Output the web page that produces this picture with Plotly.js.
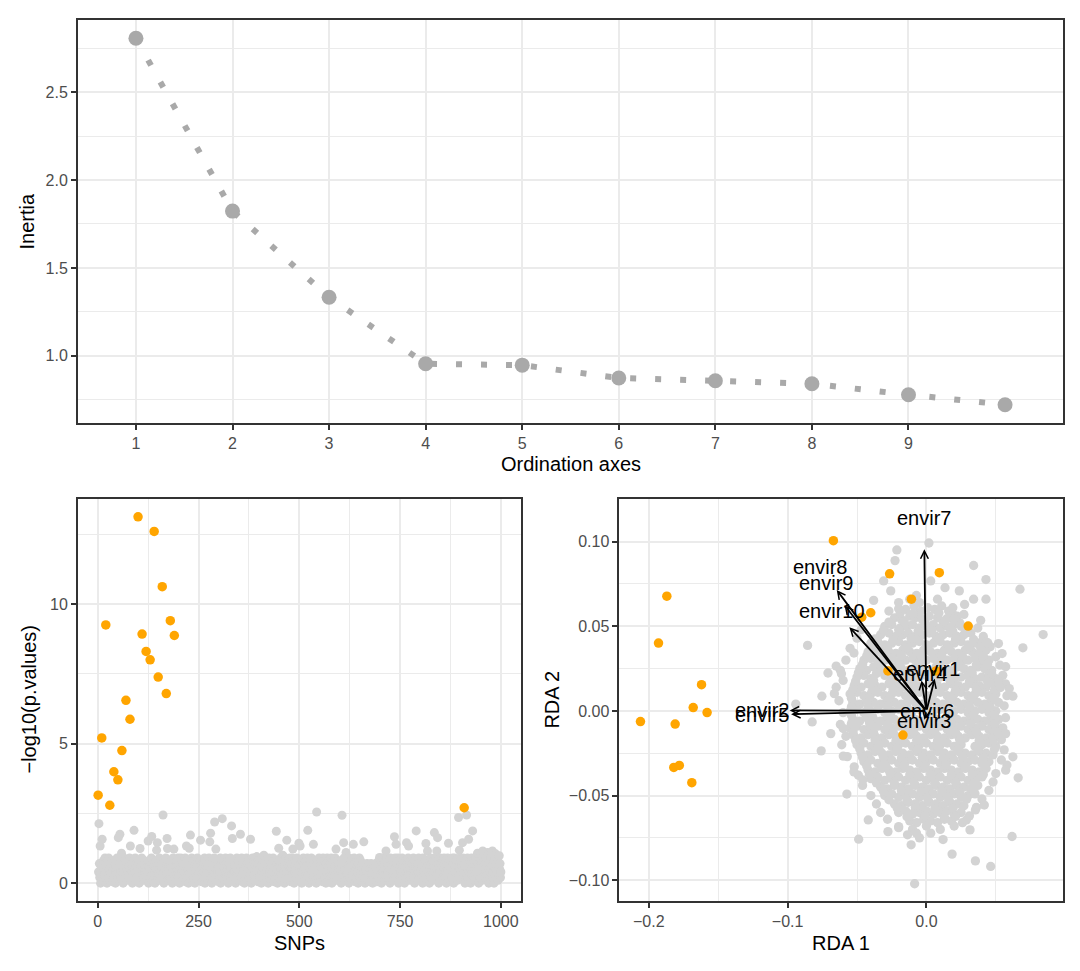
<!DOCTYPE html>
<html><head><meta charset="utf-8">
<script src="https://cdn.plot.ly/plotly-3.0.1.min.js"></script>
<style>html,body{margin:0;padding:0;background:#fff}#chart{width:1080px;height:971px}</style>
</head><body><div id="chart"></div>
<script>
// ---------- Scree plot (top) ----------
const ordinationAxes = [1,2,3,4,5,6,7,8,9,10];
const inertia = [2.806,1.823,1.333,0.955,0.947,0.874,0.858,0.841,0.779,0.722];
const screeTicks = [1,2,3,4,5,6,7,8,9];
const screeYTicks = [1.0,1.5,2.0,2.5];
const screeYTickText = ['1.0','1.5','2.0','2.5'];

// ---------- Manhattan plot (bottom left): -log10(p) per SNP 1..1000 ----------
const negLog10P = [
3.15,.4,2.13,.7,.2,1.33,0,.5,.3,5.2,1.57,.6,.2,.8,.4,.1,.3,.9,.5,9.25,
.3,.6,0,.8,.4,.2,.9,.5,.1,2.79,.7,.3,.2,.6,.4,.8,.05,.5,.3,3.99,
.2,.5,.8,0,.4,.6,.3,.9,.2,3.7,1.63,.4,.1,.7,1.75,.3,.5,.2,1.07,4.75,
.4,.7,0,.3,.9,.5,.2,.6,.8,6.55,.3,.1,.5,.4,.7,.2,.6,.3,.9,5.87,
1.33,.5,.2,.7,.4,0,.6,.3,.8,1.89,.2,.5,.9,.4,.1,.7,.3,.6,.2,13.12,
.3,.8,0,.5,1.24,.6,.2,.4,.9,8.92,.3,.7,.1,.5,.2,.8,.4,.6,.3,8.3,
.5,.2,.7,.3,1.51,0,.6,.4,.8,8.0,.2,.5,.9,1.67,.3,.7,.1,.4,.6,12.6,
.4,0,.6,.8,.3,1.18,.5,1.45,.2,7.38,.7,.3,.9,.1,.5,.4,.8,.2,.6,10.62,
.3,2.44,.6,0,.8,.4,.2,.5,.9,6.79,.3,1.6,1.24,.7,.1,.4,.6,.2,.8,9.4,
.2,.6,.4,.8,0,.5,.9,.3,1.22,8.87,.7,.2,.4,.6,.1,.8,.3,.5,.9,.2,
.6,.3,0,.7,.5,.9,.2,.4,.8,.1,.3,.6,.5,.2,.7,.4,.9,.05,.5,1.33,
.4,.8,.2,.5,0,.6,1.25,.3,.7,1.72,.2,.5,.9,.4,.1,.6,.3,.8,.2,.5,
0,.5,.8,.3,.6,.2,.9,.4,.1,.7,.3,.5,.2,.8,1.54,.4,.6,.05,.7,.3,
.5,.2,.7,.4,.9,0,.3,.6,.8,.2,.5,.4,.1,.7,.3,.9,.6,1.48,.2,1.79,
.3,.7,0,.5,.8,.2,.4,.6,.9,2.19,.3,.1,1.22,.5,.7,.2,.8,.4,.6,.05,
.6,.2,.4,.9,0,.5,.3,.7,2.31,.2,.8,.4,.6,.1,.5,.3,.9,.2,.7,.4,
.2,.5,.8,0,.6,.3,.7,.4,.9,.2,.5,2.05,.3,1.6,.1,.7,.4,.8,.2,.6,
.4,0,.7,.3,.9,.5,.2,.6,.8,.1,.4,.7,.3,1.75,.5,.2,.9,.6,.05,.4,
.7,.3,.5,0,.8,.4,.2,.6,.9,.3,.5,.1,.7,.4,.8,.2,.6,.3,1.57,.5,
0,.6,.4,.9,.2,.5,.8,.3,.7,.1,.4,.6,.2,.95,.5,.3,.8,.05,.7,.4,
.5,.2,.8,.3,.6,0,.9,.4,.7,.2,.5,1.0,.3,.6,.1,.8,.4,.2,.7,.5,
.3,.7,0,.5,.9,.2,.4,.8,.6,.1,.3,.7,.5,.2,.9,.4,.6,.05,.8,.3,
.6,.2,1.86,.4,.7,0,.5,.3,1.25,.8,.2,.6,.4,.9,.1,.5,.3,.7,1.0,.2,
.4,.8,0,.6,.3,.9,.2,.5,1.54,.7,.1,.4,.8,.3,.6,.2,.9,.5,.05,.7,
.2,.5,.9,1.22,.3,.7,0,.6,.4,.8,.2,.5,.3,.9,.1,.6,.4,.7,1.43,.3,
.5,1.33,.2,.7,.4,0,.8,.3,.6,.9,.2,.5,.1,.7,.4,.8,.3,.6,.2,.9,
1.89,.3,.6,0,.8,.4,.2,.7,.5,.9,.1,.3,.6,.4,1.39,.2,.8,.5,.05,.7,
.4,0,2.55,.6,.3,.8,.2,.5,.9,.1,.7,.4,.6,.2,.8,.3,.5,.05,.9,.4,
.6,.3,.8,.2,.5,0,.7,.4,.9,.3,.6,.2,.8,.5,.1,.4,.7,.3,.9,.2,
0,.5,.3,.8,.4,.7,.2,.6,.9,.3,1.22,.5,.1,.7,.4,.8,.2,.6,.3,.5,
.7,.2,.5,0,.8,2.43,.4,.6,.3,1.45,.9,.2,.5,.1,.7,1.1,.4,.8,.3,.6,
.3,.6,0,.9,.4,.2,.7,.5,.8,.1,.4,.6,.3,1.39,.2,.9,.5,.7,.05,.4,
.5,.2,.8,.4,.6,0,.7,.3,.9,.2,.5,.8,.1,.6,.4,.3,.7,.2,.5,1.48,
.2,.4,0,.6,.3,.5,.2,.7,.1,.4,.3,.6,.2,.5,.05,.4,.3,.7,.2,.5,
.3,0,.5,.2,.6,.4,.1,.3,.7,.2,.5,.05,.4,.6,.3,.2,.8,.4,.92,.5,
.6,.3,.8,0,.5,.9,.2,.4,.7,.3,.6,.1,.8,.4,1.15,.2,.5,.9,.3,.7,
.4,.8,.2,.6,0,.9,.5,.3,.7,.2,.4,.8,.1,.6,.3,1.66,.5,.9,.2,1.39,
.5,.2,.7,.4,.9,0,.6,.3,.8,.5,.2,.4,.7,.1,.9,.6,.3,.8,.2,.5,
0,.6,.3,.8,.4,1.45,.2,.7,.5,.9,1.33,.3,.6,.1,.8,.4,.2,.7,.5,.3,
.7,.3,.9,.2,.5,0,.8,.4,.6,1.87,.3,.5,.2,.7,.1,.9,.4,.6,.3,.8,
.2,.5,.8,.3,.6,0,.9,.4,.7,.2,.5,.3,.8,1.42,.1,.6,.4,1.15,.2,.7,
.4,.8,0,.6,.3,.9,.2,.5,.7,.4,.1,.8,.3,.6,1.81,.2,.5,.9,.4,.7,
1.15,.3,1.63,.5,.8,0,.6,.4,.9,.2,.7,.3,.5,.1,.8,.4,.6,.2,.9,.3,
.6,.2,.8,.4,0,.7,.3,.9,.5,1.43,.2,.6,.4,.8,.1,.5,.3,.7,.2,.9,
.3,.7,0,.5,.9,.4,.6,.2,.8,.3,.5,.1,.7,.4,2.35,.6,1.18,.9,.2,.5,
.8,.4,.6,.2,1.45,.9,.3,.7,2.7,.5,0,.8,.4,.6,2.44,.3,.9,.2,.5,1.57,
.2,.6,.4,.8,0,.5,.9,.3,.7,1.87,.4,.2,.6,.8,.1,.5,.3,.9,.4,.7,
.5,1.07,.3,.7,0,.6,.4,.9,.2,.8,.5,.3,.7,.1,1.15,.4,.6,.2,1.05,.3,
.7,.2,.5,.9,.3,.6,1.1,.4,.8,0,1.05,.5,.2,.7,.4,.9,.3,.6,1.15,.2,
.4,.8,0,.6,.3,.9,1.05,.5,.7,.2,.4,.8,.1,.6,.3,.98,.5,.7,.2,.4
];
const outlierSNPs = [1,10,20,30,40,50,60,70,80,100,110,120,130,140,150,160,170,180,190,909];
const snpTicks = [0,250,500,750,1000];
const pTicks = [0,5,10];

// ---------- RDA biplot (bottom right) ----------
const rdaOutlier1 = [-.067,-.187,-.193,-.162,-.168,-.158,-.206,-.181,-.182,-.178,-.169,-.0265,.0093,-.0108,-.0401,-.0466,.0301,-.0277,.0069,-.0169];
const rdaOutlier2 = [.1006,.0678,.0401,.0155,.002,-.001,-.0063,-.0078,-.0334,-.0322,-.0424,.081,.0817,.066,.058,.0554,.0501,.0236,.0236,-.0143];
const rdaGreyCore = [
[-.015,.060],[-.009,.062],[-.004,.059],[.001,.061],[.006,.060],[.011,.062],[.016,.059],
[-.023,.055],[-.018,.054],[-.012,.056],[-.008,.055],[-.003,.054],[.002,.056],[.008,.055],[.012,.053],[.017,.055],[.022,.056],
[-.030,.050],[-.025,.051],[-.019,.049],[-.014,.050],[-.010,.051],[-.005,.049],[.000,.050],[.005,.051],[.010,.049],[.015,.050],[.020,.051],[.025,.050],[.030,.049],
[-.033,.045],[-.027,.046],[-.022,.044],[-.017,.045],[-.013,.046],[-.008,.044],[-.003,.045],[.002,.046],[.007,.044],[.012,.045],[.017,.046],[.022,.044],[.027,.045],[.032,.046],
[-.040,.040],[-.035,.041],[-.030,.039],[-.025,.040],[-.020,.041],[-.015,.039],[-.010,.040],[-.005,.041],[.000,.039],[.005,.040],[.010,.041],[.015,.039],[.020,.040],[.025,.041],[.030,.039],[.035,.040],[.040,.041],
[-.042,.035],[-.037,.034],[-.032,.036],[-.027,.035],[-.022,.034],[-.017,.036],[-.012,.035],[-.007,.034],[-.002,.036],[.003,.035],[.008,.034],[.013,.036],[.018,.035],[.023,.034],[.028,.036],[.033,.035],[.038,.034],[.043,.036],
[-.045,.030],[-.040,.031],[-.035,.029],[-.030,.030],[-.025,.031],[-.020,.029],[-.015,.030],[-.010,.031],[-.005,.029],[.000,.030],[.005,.031],[.010,.029],[.015,.030],[.020,.031],[.025,.029],[.030,.030],[.035,.031],[.040,.029],[.045,.030],
[-.048,.025],[-.043,.024],[-.038,.026],[-.033,.025],[-.028,.024],[-.023,.026],[-.018,.025],[-.013,.024],[-.008,.026],[-.003,.025],[.002,.024],[.007,.026],[.012,.025],[.017,.024],[.022,.026],[.027,.025],[.032,.024],[.037,.026],[.042,.025],[.047,.024],
[-.050,.020],[-.045,.021],[-.040,.019],[-.030,.021],[-.025,.019],[-.020,.020],[-.015,.021],[-.010,.019],[-.005,.020],[.000,.021],[.005,.019],[.010,.020],[.015,.021],[.020,.019],[.025,.020],[.030,.021],[.035,.019],[.040,.020],[.045,.021],[.050,.019],
[-.052,.015],[-.047,.014],[-.042,.016],[-.037,.015],[-.032,.014],[-.027,.016],[-.022,.015],[-.017,.014],[-.012,.016],[-.007,.015],[-.002,.014],[.003,.016],[.008,.015],[.013,.014],[.018,.016],[.023,.015],[.028,.014],[.033,.016],[.038,.015],[.043,.014],[.048,.016],
[-.055,.010],[-.050,.011],[-.045,.009],[-.040,.010],[-.035,.011],[-.030,.009],[-.025,.010],[-.020,.011],[-.015,.009],[-.010,.010],[-.005,.011],[.000,.009],[.005,.010],[.010,.011],[.015,.009],[.020,.010],[.025,.011],[.030,.009],[.035,.010],[.040,.011],[.045,.009],[.050,.010],
[-.053,.005],[-.048,.004],[-.043,.006],[-.038,.005],[-.033,.004],[-.028,.006],[-.023,.005],[-.018,.004],[-.013,.006],[-.008,.005],[-.003,.004],[.002,.006],[.007,.005],[.012,.004],[.017,.006],[.022,.005],[.027,.004],[.032,.006],[.037,.005],[.042,.004],[.047,.006],[.052,.005],
[-.055,.000],[-.050,.001],[-.045,-.001],[-.040,.000],[-.035,.001],[-.030,-.001],[-.025,.000],[-.020,.001],[-.015,-.001],[-.010,.000],[-.005,.001],[.000,-.001],[.005,.000],[.010,.001],[.015,-.001],[.020,.000],[.025,.001],[.030,-.001],[.035,.000],[.040,.001],[.045,-.001],[.050,.000],
[-.053,-.005],[-.048,-.006],[-.043,-.004],[-.038,-.005],[-.033,-.006],[-.028,-.004],[-.023,-.005],[-.018,-.006],[-.013,-.004],[-.008,-.005],[-.003,-.006],[.002,-.004],[.007,-.005],[.012,-.006],[.017,-.004],[.022,-.005],[.027,-.006],[.032,-.004],[.037,-.005],[.042,-.006],[.047,-.004],[.052,-.005],
[-.055,-.010],[-.050,-.009],[-.045,-.011],[-.040,-.010],[-.035,-.009],[-.030,-.011],[-.025,-.010],[-.020,-.009],[-.015,-.011],[-.010,-.010],[-.005,-.009],[.000,-.011],[.005,-.010],[.010,-.009],[.015,-.011],[.020,-.010],[.025,-.009],[.030,-.011],[.035,-.010],[.040,-.009],[.045,-.011],[.050,-.010],
[-.052,-.015],[-.047,-.016],[-.042,-.014],[-.037,-.015],[-.032,-.016],[-.027,-.014],[-.022,-.015],[-.017,-.016],[-.012,-.014],[-.007,-.015],[-.002,-.016],[.003,-.014],[.008,-.015],[.013,-.016],[.018,-.014],[.023,-.015],[.028,-.016],[.033,-.014],[.038,-.015],[.043,-.016],[.048,-.014],
[-.050,-.020],[-.045,-.019],[-.040,-.021],[-.035,-.020],[-.030,-.019],[-.025,-.021],[-.020,-.020],[-.015,-.019],[-.010,-.021],[-.005,-.020],[.000,-.019],[.005,-.021],[.010,-.020],[.015,-.019],[.020,-.021],[.025,-.020],[.035,-.021],[.040,-.020],[.045,-.019],[.050,-.021],
[-.047,-.025],[-.042,-.026],[-.037,-.024],[-.032,-.025],[-.027,-.026],[-.022,-.024],[-.017,-.025],[-.012,-.026],[-.007,-.024],[-.002,-.025],[.003,-.026],[.008,-.024],[.013,-.025],[.018,-.026],[.023,-.024],[.028,-.025],[.033,-.026],[.038,-.024],[.043,-.025],[.048,-.026],
[-.045,-.030],[-.040,-.029],[-.035,-.031],[-.030,-.030],[-.025,-.029],[-.020,-.031],[-.015,-.030],[-.010,-.029],[-.005,-.031],[.000,-.030],[.005,-.029],[.010,-.031],[.015,-.030],[.020,-.029],[.025,-.031],[.030,-.030],[.035,-.029],[.040,-.031],[.045,-.030],
[-.042,-.035],[-.037,-.036],[-.032,-.034],[-.027,-.035],[-.022,-.036],[-.017,-.034],[-.012,-.035],[-.007,-.036],[-.002,-.034],[.003,-.035],[.008,-.036],[.013,-.034],[.018,-.035],[.023,-.036],[.028,-.034],[.033,-.035],[.038,-.036],[.043,-.034],
[-.040,-.040],[-.035,-.039],[-.030,-.041],[-.025,-.040],[-.020,-.039],[-.015,-.041],[-.010,-.040],[-.005,-.039],[.000,-.041],[.005,-.040],[.010,-.039],[.015,-.041],[.020,-.040],[.025,-.039],[.030,-.041],[.035,-.040],[.040,-.039],
[-.033,-.045],[-.028,-.046],[-.023,-.044],[-.018,-.045],[-.013,-.046],[-.008,-.044],[-.003,-.045],[.002,-.046],[.007,-.044],[.012,-.045],[.017,-.046],[.022,-.044],[.027,-.045],[.032,-.046],[.037,-.044],
[-.030,-.050],[-.025,-.049],[-.020,-.051],[-.015,-.050],[-.010,-.049],[-.005,-.051],[.000,-.050],[.005,-.049],[.010,-.051],[.015,-.050],[.020,-.049],[.025,-.051],[.030,-.050],[.035,-.049],
[-.023,-.055],[-.018,-.056],[-.013,-.054],[-.008,-.055],[-.003,-.056],[.002,-.054],[.007,-.055],[.012,-.056],[.017,-.054],[.022,-.055],[.027,-.056],
[-.020,-.060],[-.015,-.059],[-.010,-.061],[-.005,-.060],[.000,-.059],[.005,-.061],[.010,-.060],[.015,-.059],[.020,-.061],[.025,-.060],
[-.012,-.065],[-.007,-.066],[-.002,-.064],[.003,-.065],[.008,-.066],[.013,-.064],[.018,-.065]
];
const rdaGreyFill = [
[-.019,.0575],[-.006,.0571],[.009,.0578],[.019,.0573],
[-.027,.0525],[-.016,.0529],[-.001,.0522],[.013,.0527],[.024,.0521],
[-.031,.0475],[-.020,.0479],[-.006,.0472],[.004,.0476],[.019,.0471],[.029,.0478],
[-.037,.0425],[-.024,.0421],[-.011,.0428],[.009,.0423],[.021,.0427],[.034,.0422],
[-.039,.0375],[-.028,.0379],[-.014,.0372],[.001,.0377],[.016,.0371],[.031,.0378],[.039,.0374],
[-.043,.0325],[-.031,.0321],[-.018,.0328],[-.004,.0323],[.011,.0327],[.026,.0322],[.041,.0326],
[-.046,.0275],[-.034,.0279],[-.019,.0272],[-.006,.0277],[.009,.0271],[.023,.0278],[.036,.0273],[.044,.0276],
[-.049,.0225],[-.036,.0221],[-.021,.0228],[-.008,.0223],[.006,.0227],[.019,.0222],[.033,.0226],[.047,.0221],
[-.051,.0175],[-.038,.0179],[-.026,.0172],[-.011,.0177],[.004,.0171],[.017,.0178],[.031,.0173],[.044,.0176],
[-.053,.0125],[-.039,.0121],[-.024,.0128],[-.009,.0123],[.006,.0127],[.021,.0122],[.036,.0126],[.049,.0121],
[-.054,.0075],[-.041,.0079],[-.027,.0072],[-.012,.0077],[.002,.0071],[.018,.0078],[.033,.0073],[.048,.0076],
[-.054,.0025],[-.042,.0021],[-.028,.0028],[-.014,.0023],[.001,.0027],[.016,.0022],[.031,.0026],[.046,.0021],
[-.054,-.0025],[-.039,-.0029],[-.026,-.0022],[-.011,-.0027],[.004,-.0021],[.019,-.0028],[.034,-.0023],[.049,-.0026],
[-.054,-.0075],[-.041,-.0071],[-.028,-.0078],[-.013,-.0073],[.003,-.0077],[.018,-.0072],[.032,-.0076],[.047,-.0071],
[-.053,-.0125],[-.038,-.0129],[-.024,-.0122],[-.009,-.0127],[.006,-.0121],[.021,-.0128],[.036,-.0123],[.049,-.0126],
[-.051,-.0175],[-.037,-.0171],[-.022,-.0178],[-.007,-.0173],[.008,-.0177],[.024,-.0172],[.038,-.0176],[.048,-.0171],
[-.048,-.0225],[-.034,-.0229],[-.021,-.0222],[-.006,-.0227],[.009,-.0221],[.023,-.0228],[.037,-.0223],[.049,-.0226],
[-.046,-.0275],[-.031,-.0271],[-.018,-.0278],[-.003,-.0273],[.012,-.0277],[.026,-.0272],[.041,-.0276],
[-.043,-.0325],[-.029,-.0329],[-.016,-.0322],[-.001,-.0327],[.014,-.0321],[.028,-.0328],[.042,-.0323],
[-.041,-.0375],[-.026,-.0371],[-.012,-.0378],[.003,-.0373],[.018,-.0377],[.033,-.0372],[.041,-.0376],
[-.036,-.0425],[-.023,-.0429],[-.009,-.0422],[.006,-.0427],[.021,-.0421],[.034,-.0428],
[-.031,-.0475],[-.018,-.0471],[-.004,-.0478],[.011,-.0473],[.024,-.0477],[.034,-.0472],
[-.027,-.0525],[-.014,-.0529],[.001,-.0522],[.016,-.0527],[.029,-.0521],
[-.021,-.0575],[-.008,-.0571],[.006,-.0578],[.019,-.0573],
[-.014,-.0625],[-.001,-.0621],[.013,-.0628],[.021,-.0623]
];
const rdaGreyEdge = [
[-.050,.043],[-.047,.048],[-.055,.037],[-.058,.030],[-.062,.024],[-.060,.018],[-.065,.014],[-.063,.006],[-.060,-.001],[-.062,-.008],[-.058,-.015],[-.061,-.020],[-.057,-.027],[-.052,-.033],[-.049,-.038],[-.046,-.044],[-.040,-.050],[-.036,-.055],[-.033,-.060],[-.028,-.064],
[.037,.049],[.041,.044],[.046,.038],[.050,.032],[.053,.027],[.055,.021],[.057,.016],[.058,.009],[.056,.003],[.057,-.004],[.055,-.010],[.054,-.017],[.056,-.023],[.054,-.029],[.058,-.032],[.050,-.037],[.048,-.042],[.045,-.047],[.040,-.052],[.036,-.057],[.031,-.062],[.026,-.066],
[-.020,.064],[-.012,.066],[-.005,.064],[.008,.066],[.019,.061],[-.027,.059],[.027,.057],
[-.020,-.069],[-.010,-.070],[.000,-.068],[.010,-.070],[.020,-.068],[-.005,-.075],[.012,-.076],
[.0018,.0992],[-.0213,.0951],[-.0226,.0888],[.034,.0859],[-.0308,.0768],[-.0257,.0709],[.0031,.0768],[.0134,.0728],[.0237,.0709],[.0429,.0776],[.0674,.0719],[.034,.066],[.0429,.066],[.0275,.0629],[-.038,.0653],[-.020,.0604],[-.0072,.0682],[-.0097,.0574],[.0147,.0545],[.0198,.0545],[.0391,.0535],[.0429,.0408],[.0519,.0398],[.0442,.0402],[.0841,.0451],[.0695,.0373],[.0545,.0339],[.0571,.0261],
[-.0856,.0387],[-.0522,.0342],[-.0612,.022],[-.065,.0265],[-.0709,.0224],[-.0753,.0087],[-.0663,.0102],[-.0941,.004],[-.0823,-.0065],[-.0599,-.0104],[-.0689,-.0134],[-.0758,-.0236],[-.0599,-.0267],[-.0522,-.036],[-.0573,-.0491],[-.0458,-.0408],
[-.0419,-.0644],[-.0488,-.0758],[-.0277,-.0713],[-.020,-.0683],[-.0136,-.0732],[-.0072,-.0722],[.0031,-.0722],[-.0097,-.0605],[-.0085,-.1021],[-.011,-.0791],[.0185,-.0846],[.0288,-.0644],[.0353,-.0886],[.0463,-.0919],[.0314,-.0703],[.0353,-.0585],[.0417,-.0556],[.0617,-.0742],
[.0661,-.0395],[.0571,-.035],[.0623,-.0271],[.0519,-.0134],[.0571,-.0134],[.0494,-.0075],[.0623,.0087],[.0597,.0132],[.0533,.0138],[.0519,.0181]
];
const envNames  = ['envir1','envir2','envir3','envir4','envir5','envir6','envir7','envir8','envir9','envir10'];
const envRDA1   = [.006,-.0985,-.0014,-.0035,-.0975,.0006,-.0015,-.0646,-.059,-.0555];
const envRDA2   = [.019,.0003,-.0052,.018,-.002,.0001,.0955,.0715,.0625,.0495];
const envLabel1 = [.005,-.1186,-.0017,-.0046,-.1186,.0005,-.002,-.077,-.072,-.068];
const envLabel2 = [.025,.0004,-.0062,.022,-.0025,.0002,.114,.085,.0754,.0593];
const rdaXTicks = [-0.2,-0.1,0.0];
const rdaXTickText = ['\u22120.2','\u22120.1','0.0'];
const rdaYTicks = [-0.10,-0.05,0.00,0.05,0.10];
const rdaYTickText = ['\u22120.10','\u22120.05','0.00','0.05','0.10'];

if (negLog10P.length !== 1000) throw new Error('negLog10P length ' + negLog10P.length);

// ---------- build ----------
const FONT = 'Liberation Sans, Arial, Helvetica, sans-serif';
const GRID = '#EBEBEB', FRAME = '#333333', TICKTXT = '#4D4D4D';
const GREY = '#D3D3D3', ORANGE = '#FFA500', DARKGREY = '#A9A9A9';

const gX = [], gY = [], oX = [], oY = [];
negLog10P.forEach((v, i) => {
  const snp = i + 1;
  if (outlierSNPs.includes(snp)) { oX.push(snp); oY.push(v); }
  else { gX.push(snp); gY.push(v); }
});
const rdaGrey = rdaGreyCore.concat(rdaGreyFill, rdaGreyEdge);

const traces = [
  {type:'scatter', mode:'lines+markers', x:ordinationAxes, y:inertia, xaxis:'x', yaxis:'y',
   line:{color:DARKGREY, width:6, dash:'6px,19px'}, marker:{color:DARKGREY, size:15}, hoverinfo:'skip'},
  {type:'scatter', mode:'markers', x:gX, y:gY, xaxis:'x2', yaxis:'y2', marker:{color:GREY, size:9}, hoverinfo:'skip'},
  {type:'scatter', mode:'markers', x:oX, y:oY, xaxis:'x2', yaxis:'y2', marker:{color:ORANGE, size:9.5}, hoverinfo:'skip'},
  {type:'scatter', mode:'markers', x:rdaGrey.map(p=>p[0]), y:rdaGrey.map(p=>p[1]), xaxis:'x3', yaxis:'y3', marker:{color:GREY, size:9.3}, hoverinfo:'skip'},
  {type:'scatter', mode:'markers', x:rdaOutlier1, y:rdaOutlier2, xaxis:'x3', yaxis:'y3', marker:{color:ORANGE, size:9.5}, hoverinfo:'skip'}
];

function axis(o){ return Object.assign({
  showgrid:true, gridcolor:GRID, gridwidth:2, zeroline:false,
  showline:true, mirror:true, linecolor:FRAME, linewidth:2,
  ticks:'outside', ticklen:5, tickwidth:2, tickcolor:FRAME,
  tickfont:{family:FONT, size:16, color:TICKTXT}, tickmode:'array', fixedrange:true
}, o); }
function minor(vals){ return {tickmode:'array', tickvals:vals, showgrid:true, gridcolor:GRID, gridwidth:1, ticks:''}; }

const annotations = [];
function title(text, xp, yp, angle){
  annotations.push({xref:'paper', yref:'paper', x:xp/1080, y:1-yp/971, text:text, showarrow:false,
    textangle:angle||0, xanchor:'center', yanchor:'middle', font:{family:FONT, size:20, color:'#000'}});
}
title('Inertia', 27, 221.5, -90);
title('Ordination axes', 570.5, 464);
title('\u2212log10(p.values)', 28.5, 700, -90);
title('SNPs', 299.5, 943);
title('RDA 2', 551.6, 700, -90);
title('RDA 1', 841.25, 943);

envNames.forEach((n, i) => {
  annotations.push({xref:'x3', yref:'y3', axref:'x3', ayref:'y3', x:envRDA1[i], y:envRDA2[i], ax:0, ay:0,
    text:'', showarrow:true, arrowhead:5, arrowsize:0.85, arrowwidth:1.8, arrowcolor:'#000', standoff:0, startstandoff:0});
});
envNames.forEach((n, i) => {
  annotations.push({xref:'x3', yref:'y3', x:envLabel1[i], y:envLabel2[i], text:n, showarrow:false,
    xanchor:'center', yanchor:'middle', font:{family:FONT, size:20, color:'#000'}});
});

const layout = {
  width:1080, height:971, margin:{l:0, r:0, t:0, b:0},
  paper_bgcolor:'#fff', plot_bgcolor:'#fff', showlegend:false,
  font:{family:FONT},
  xaxis: axis({domain:[0.07222,0.98426], anchor:'y', range:[0.4,10.6], tickvals:screeTicks, ticktext:screeTicks.map(String)}),
  yaxis: axis({domain:[0.56437,0.97940], anchor:'x', range:[0.618,2.910], tickvals:screeYTicks, ticktext:screeYTickText,
               minor:minor([0.75,1.25,1.75,2.25,2.75])}),
  xaxis2: axis({domain:[0.07222,0.48241], anchor:'y2', range:[-48.95,1049.95], tickvals:snpTicks, ticktext:snpTicks.map(String),
               minor:minor([125,375,625,875])}),
  yaxis2: axis({domain:[0.07209,0.48610], anchor:'x2', range:[-0.64,13.76], tickvals:pTicks, ticktext:pTicks.map(String),
               minor:minor([2.5,7.5,12.5])}),
  xaxis3: axis({domain:[0.57361,0.98426], anchor:'y3', range:[-0.2211,0.0984], tickvals:rdaXTicks, ticktext:rdaXTickText,
               minor:minor([-0.15,-0.05,0.05])}),
  yaxis3: axis({domain:[0.07209,0.48610], anchor:'x3', range:[-0.1123,0.1252], tickvals:rdaYTicks, ticktext:rdaYTickText,
               minor:minor([-0.075,-0.025,0.025,0.075])}),
  annotations: annotations
};

Plotly.newPlot('chart', traces, layout, {displayModeBar:false, staticPlot:true});
</script>
</body></html>
